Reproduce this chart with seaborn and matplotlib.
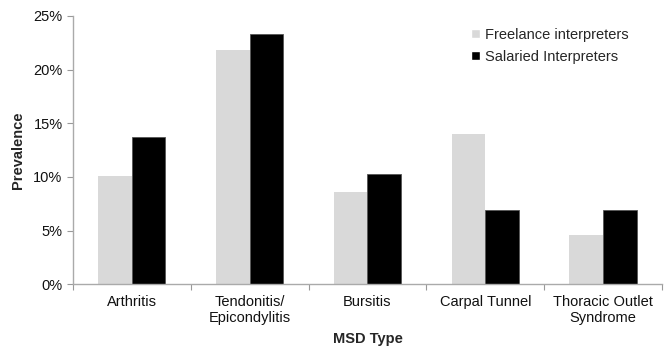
import numpy as np
import pandas as pd
import seaborn as sns
import matplotlib.pyplot as plt
from matplotlib.ticker import PercentFormatter, FixedLocator

categories = ["Arthritis", "Tendonitis/\nEpicondylitis", "Bursitis",
              "Carpal Tunnel", "Thoracic Outlet\nSyndrome"]
freelance = [10.1, 21.8, 8.55, 14.0, 4.6]
salaried = [13.75, 23.3, 10.3, 6.9, 6.9]
groups = ["Freelance interpreters", "Salaried Interpreters"]
colors = ["#d9d9d9", "#000000"]

df = pd.DataFrame({
    "MSD Type": categories * 2,
    "Prevalence": freelance + salaried,
    "Group": [groups[0]] * len(categories) + [groups[1]] * len(categories),
})

sns.set_theme(style="white")
plt.rcParams['font.family'] = ['Liberation Sans', 'DejaVu Sans']

fig = plt.figure(figsize=(6.7, 3.53), dpi=100)
ax = fig.add_axes([0.109, 0.195, 0.879, 0.76])

sns.barplot(data=df, x="MSD Type", y="Prevalence", hue="Group",
            palette=colors, width=0.57, ax=ax, saturation=1)

for bar, c in zip(ax.patches, [colors[0]] * 5 + [colors[1]] * 5):
    if c == "#000000":
        bar.set_edgecolor("#555555")
        bar.set_linewidth(0.6)
    else:
        bar.set_linewidth(0)

ax.set_xlim(-0.5, 4.5)
ax.set_ylim(0, 25)
ax.set_yticks([0, 5, 10, 15, 20, 25])
ax.yaxis.set_major_formatter(PercentFormatter(decimals=0))
ax.tick_params(axis="y", labelsize=10.5, colors="#999999", labelcolor="#111111",
               length=4, width=0.8, left=True, direction="out")
ax.tick_params(axis="x", which="major", labelsize=10.5, labelcolor="#111111",
               length=0, pad=8)
ax.xaxis.set_minor_locator(FixedLocator(np.arange(-0.5, 5.0, 1.0)))
ax.tick_params(axis="x", which="minor", bottom=True, length=4, width=0.8,
               color="#999999", direction="out")

for side in ["top", "right"]:
    ax.spines[side].set_visible(False)
for side in ["left", "bottom"]:
    ax.spines[side].set_color("#aaaaaa")
    ax.spines[side].set_linewidth(1.0)

ax.set_xlabel("MSD Type", fontsize=10.5, fontweight="bold", labelpad=5)
ax.set_ylabel("Prevalence", fontsize=10.5, fontweight="bold", labelpad=6)

leg = ax.legend(loc="upper right", bbox_to_anchor=(0.965, 1.005), frameon=False,
                fontsize=10.5, handlelength=0.6, handleheight=0.6,
                handletextpad=0.3, labelspacing=0.55)

fig.savefig("out.png", dpi=100)
